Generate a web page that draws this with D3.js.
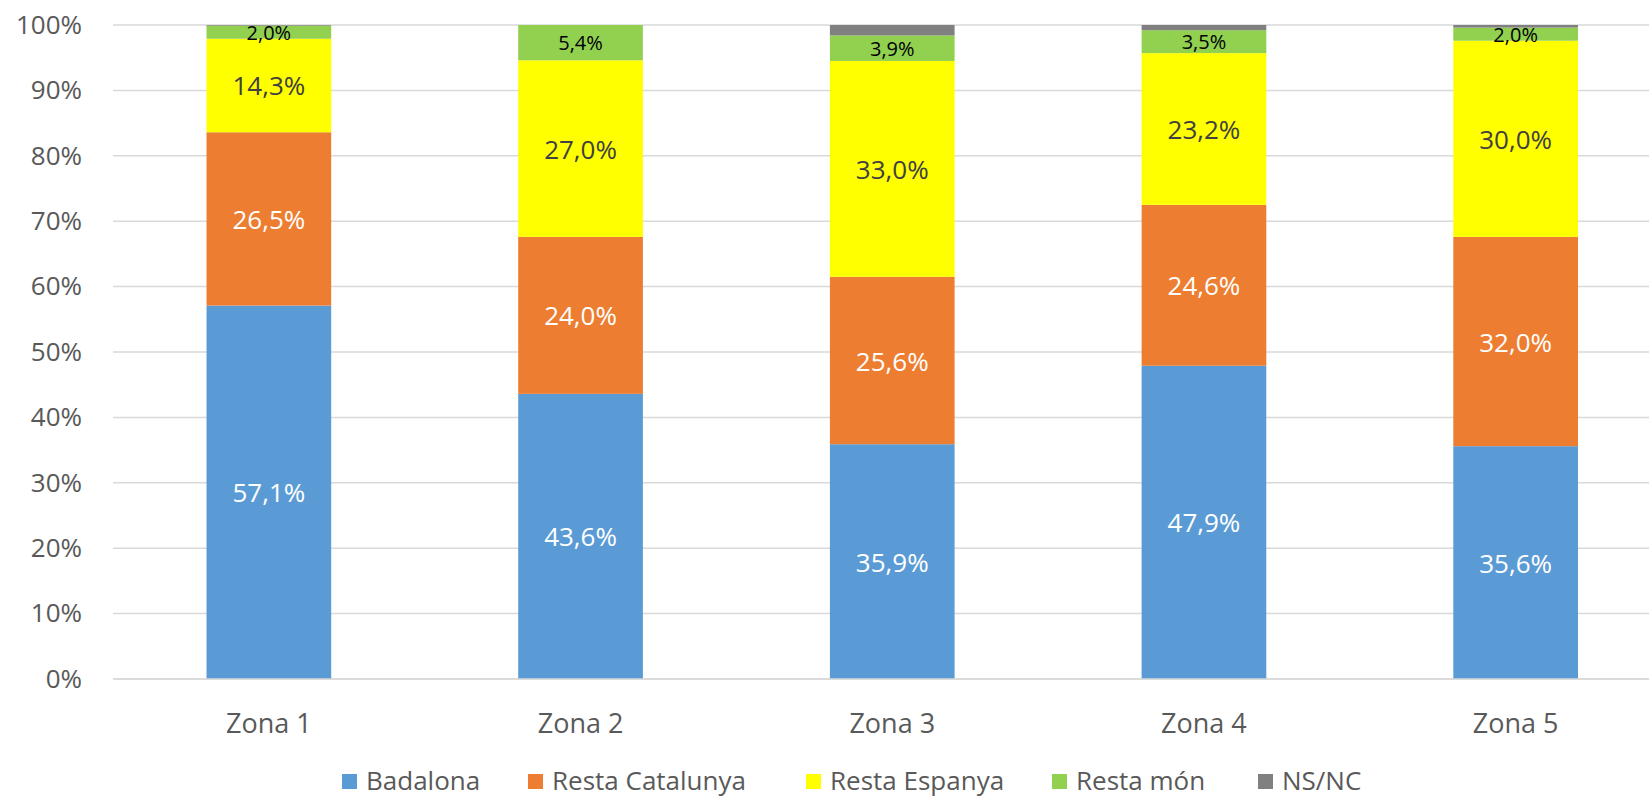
<!DOCTYPE html>
<html><head><meta charset="utf-8">
<script src="https://cdn.jsdelivr.net/npm/d3@7"></script>
<style>body{margin:0;background:#fff}svg{display:block}text{font-family:"Open Sans","DejaVu Sans",sans-serif}</style>
</head><body><svg id="c" width="1649" height="797"></svg>
<script>
const zones = ["Zona 1","Zona 2","Zona 3","Zona 4","Zona 5"];
const seriesNames = ["Badalona","Resta Catalunya","Resta Espanya","Resta món","NS/NC"];
const badalona = [57.1, 43.6, 35.9, 47.9, 35.6];
const restaCatalunya = [26.5, 24.0, 25.6, 24.6, 32.0];
const restaEspanya = [14.3, 27.0, 33.0, 23.2, 30.0];
const restaMon = [2.0, 5.4, 3.9, 3.5, 2.0];
const nsnc = [0.1, 0.0, 1.6, 0.8, 0.4];
const yTicks = [0,10,20,30,40,50,60,70,80,90,100];
const colors = ["#5B9BD5","#ED7D31","#FFFF00","#92D050","#808080"];
const labelColors = ["#FFFFFF","#FFFFFF","#404040","#000000",null];
const labelSizes = [26,26,26,20,0];

const svg = d3.select("#c");
const plotLeft = 113, stepW = 311.7, plotTop = 25, plotBottom = 679;
const x = d3.scaleBand().domain(zones).range([plotLeft, plotLeft + stepW*zones.length]).paddingInner(0.6).paddingOuter(0.3);
const y = d3.scaleLinear().domain([0,100]).range([plotBottom, plotTop]);

const data = zones.map((z,i)=>({zone:z, "Badalona":badalona[i], "Resta Catalunya":restaCatalunya[i], "Resta Espanya":restaEspanya[i], "Resta món":restaMon[i], "NS/NC":nsnc[i]}));
const stack = d3.stack().keys(seriesNames)(data);

// gridlines
svg.append("g").selectAll("line").data(yTicks).join("line")
  .attr("x1", plotLeft).attr("x2", 1649)
  .attr("y1", d=>y(d)).attr("y2", d=>y(d))
  .attr("stroke", "#D9D9D9").attr("stroke-width", 1.5);

// y axis
const yAxis = svg.append("g").attr("transform", `translate(${plotLeft-28},0)`)
  .call(d3.axisLeft(y).tickValues(yTicks).tickFormat(d=>d+"%").tickSize(0));
yAxis.select(".domain").remove();
yAxis.selectAll("text").attr("fill","#595959").attr("font-size", 26);

// bars
stack.forEach((s,si)=>{
  const g = svg.append("g");
  g.selectAll("rect").data(s).join("rect")
    .attr("x", d=>x(d.data.zone)).attr("width", x.bandwidth())
    .attr("y", d=>y(d[1])).attr("height", d=>y(d[0])-y(d[1]))
    .attr("fill", colors[si]);
  if (labelColors[si]) {
    g.selectAll("text").data(s).join("text")
      .attr("x", d=>x(d.data.zone)+x.bandwidth()/2)
      .attr("y", d=>(y(d[0])+y(d[1]))/2)
      .attr("text-anchor","middle").attr("dominant-baseline","central")
      .attr("fill", labelColors[si]).attr("font-size", labelSizes[si])
      .text(d=>(d[1]-d[0]).toFixed(1).replace(".",",")+"%");
  }
});

// baseline
svg.append("line").attr("x1",plotLeft).attr("x2",1649).attr("y1",y(0)).attr("y2",y(0)).attr("stroke","#D9D9D9").attr("stroke-width",1.5);

// x axis
const xAxis = svg.append("g").attr("transform", `translate(0,${plotBottom})`)
  .call(d3.axisBottom(x).tickSize(0).tickPadding(35));
xAxis.select(".domain").remove();
xAxis.selectAll("text").attr("fill","#595959").attr("font-size", 27);

// legend
const legendX = [342, 528, 806, 1052, 1258];
const lg = svg.append("g");
seriesNames.forEach((n,i)=>{
  lg.append("rect").attr("x", legendX[i]).attr("y", 774).attr("width", 15).attr("height", 15).attr("fill", colors[i]);
  lg.append("text").attr("x", legendX[i]+24).attr("y", 780).attr("dominant-baseline","central")
    .attr("fill","#595959").attr("font-size", 26).text(n);
});
</script></body></html>
